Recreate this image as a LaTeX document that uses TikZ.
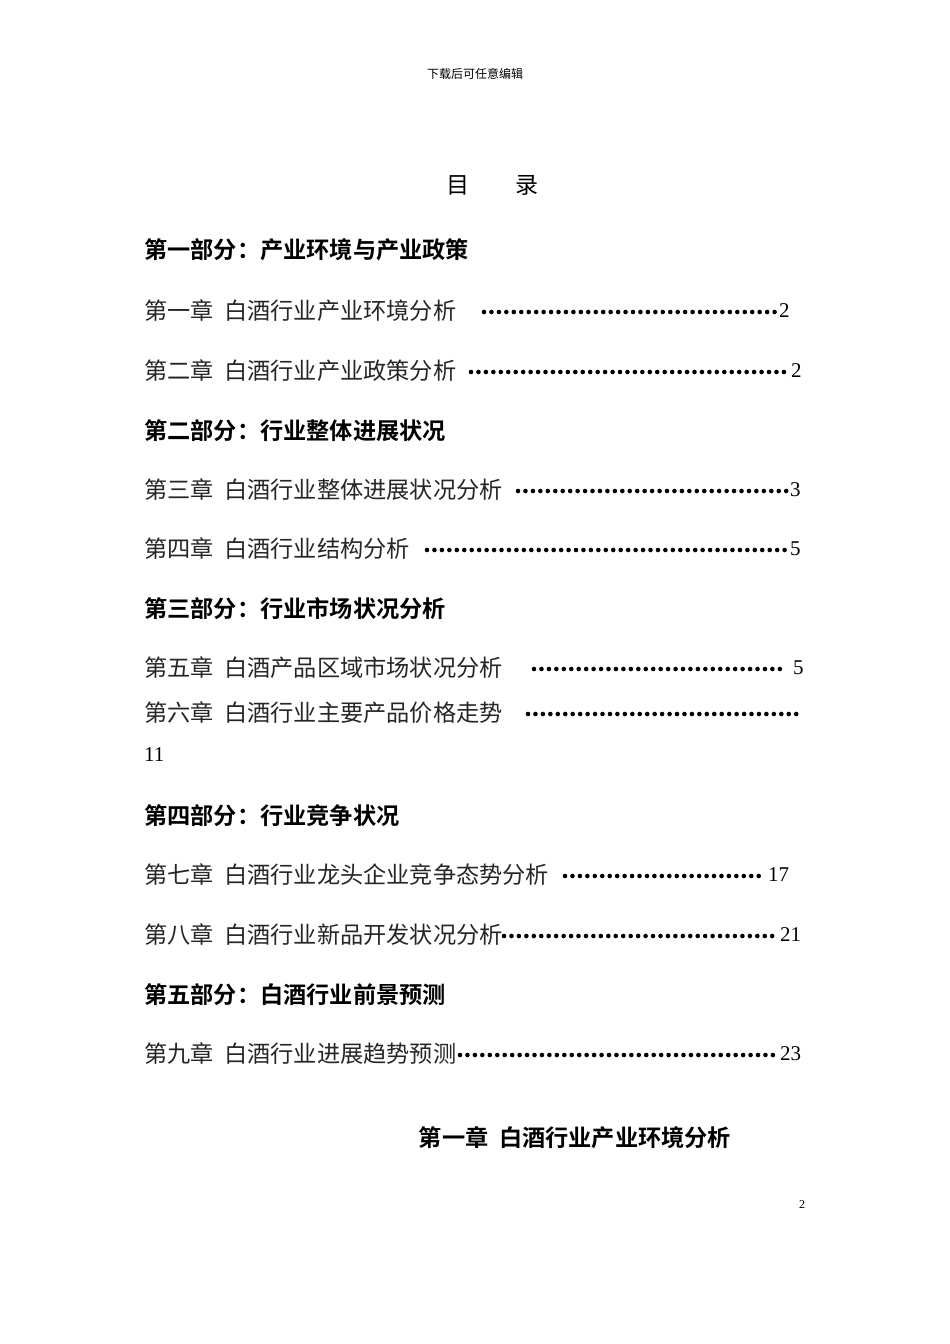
\documentclass[tikz,border=0pt]{standalone}
\usepackage{fontspec}
\setmainfont{Liberation Serif}
\newfontfamily\cjk{Noto Sans CJK SC}
\newfontfamily\cjkb{Noto Sans CJK SC Bold}
\newcommand{\gp}{\hspace{0.45em}}
\begin{document}
\begin{tikzpicture}[x=1pt,y=-1pt,
  chap/.style={anchor=west,inner sep=0pt,font=\fontsize{23.2}{23}\cjk,text=black!85},
  part/.style={anchor=west,inner sep=0pt,font=\fontsize{23.2}{23}\cjkb},
  num/.style={anchor=west,inner sep=0pt,font=\fontsize{21}{21}\selectfont},
  dotline/.style={line width=4.6pt,line cap=round,dash pattern=on 0pt off 7.45pt}]
\useasboundingbox[fill=white] (0,0) rectangle (950,1344);
\node[inner sep=0pt,font=\fontsize{12}{12}\cjk] (hdr) at (475,74) {下载后可任意编辑};
\node[inner sep=0pt,font=\fontsize{23}{23}\cjk] (t1) at (458,185) {目};
\node[inner sep=0pt,font=\fontsize{23}{23}\cjk] (t2) at (527,185) {录};
\node[part] (p1) at (144,250) {第一部分：产业环境与产业政策};
\node[chap] (c1) at (144,311) {第一章\gp 白酒行业产业环境分析};
\draw[dotline] (484,312) -- (776,312); \node[num] at (779,311) {2};
\node[chap] (c2) at (144,371) {第二章\gp 白酒行业产业政策分析};
\draw[dotline] (471,372) -- (786,372); \node[num] at (791,371) {2};
\node[part] (p2) at (144,431) {第二部分：行业整体进展状况};
\node[chap] (c3) at (144,490) {第三章\gp 白酒行业整体进展状况分析};
\draw[dotline] (518,491) -- (787,491); \node[num] at (790,490) {3};
\node[chap] (c4) at (144,549) {第四章\gp 白酒行业结构分析};
\draw[dotline] (427,550) -- (787,550); \node[num] at (790,549) {5};
\node[part] (p3) at (144,609) {第三部分：行业市场状况分析};
\node[chap] (c5) at (144,668) {第五章\gp 白酒产品区域市场状况分析};
\draw[dotline] (534,669) -- (787,669); \node[num] at (793,668) {5};
\node[chap] (c6) at (144,713) {第六章\gp 白酒行业主要产品价格走势};
\draw[dotline] (528,714) -- (802,714);
\node[num] (n11) at (144,755) {11};
\node[part] (p4) at (144,816) {第四部分：行业竞争状况};
\node[chap] (c7) at (144,875) {第七章\gp 白酒行业龙头企业竞争态势分析};
\draw[dotline] (565,876) -- (764,876); \node[num] at (768,875) {17};
\node[chap] (c8) at (144,935) {第八章\gp 白酒行业新品开发状况分析};
\draw[dotline] (504,936) -- (777,936); \node[num] at (780,935) {21};
\node[part] (p5) at (144,995) {第五部分：白酒行业前景预测};
\node[chap] (c9) at (144,1054) {第九章\gp 白酒行业进展趋势预测};
\draw[dotline] (460,1055) -- (777,1055); \node[num] at (780,1054) {23};
\node[part,anchor=center] (h1) at (575,1138) {第一章\gp 白酒行业产业环境分析};
\node[inner sep=0pt,font=\fontsize{12}{12}\selectfont] (pg) at (802,1205) {2};
\end{tikzpicture}
\end{document}
